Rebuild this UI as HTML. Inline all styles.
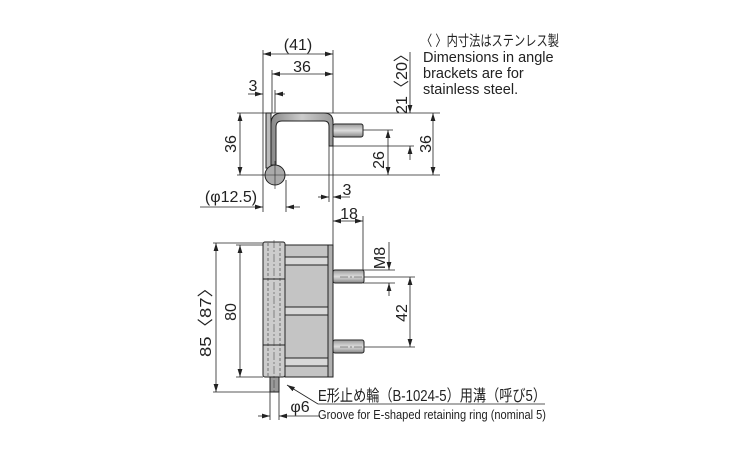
<!DOCTYPE html>
<html><head><meta charset="utf-8"><style>
html,body{margin:0;padding:0;background:#fff;width:750px;height:450px;overflow:hidden}
text{font-family:"Liberation Sans","Noto Sans CJK JP",sans-serif;fill:#222}
</style></head><body>
<svg width="750" height="450" viewBox="0 0 750 450" xmlns="http://www.w3.org/2000/svg">
<defs>
<marker id="a" viewBox="0 0 10 6" refX="10" refY="3" markerWidth="8" markerHeight="5" orient="auto-start-reverse" markerUnits="userSpaceOnUse"><path d="M0,0 L10,3 L0,6z" fill="#222"/></marker>
<linearGradient id="pg" x1="0" x2="1"><stop offset="0" stop-color="#888"/><stop offset=".5" stop-color="#ccc"/><stop offset="1" stop-color="#999"/></linearGradient>
<linearGradient id="pv" x1="0" x2="0" y1="0" y2="1"><stop offset="0" stop-color="#999"/><stop offset=".5" stop-color="#ddd"/><stop offset="1" stop-color="#888"/></linearGradient>
</defs>
<g stroke="#222" stroke-width="0.8" fill="none">
<line x1="263" y1="50" x2="263" y2="212"/>
<line x1="333" y1="50" x2="333" y2="113"/>
<line x1="272" y1="70" x2="272" y2="113"/>
<line x1="275" y1="90" x2="275" y2="113"/>
<line x1="237" y1="113" x2="440" y2="113"/>
<line x1="237" y1="175" x2="440" y2="175"/>
<line x1="363" y1="130" x2="393" y2="130"/>
<line x1="333" y1="146" x2="414" y2="146"/>
<line x1="329" y1="146" x2="329" y2="202"/>
<line x1="333" y1="146" x2="333" y2="202"/>
<line x1="286" y1="180" x2="286" y2="212"/>
<line x1="263" y1="54" x2="333" y2="54" marker-start="url(#a)" marker-end="url(#a)"/>
<line x1="272" y1="74" x2="333" y2="74" marker-start="url(#a)" marker-end="url(#a)"/>
<line x1="248" y1="94" x2="263" y2="94" marker-end="url(#a)"/>
<line x1="285" y1="94" x2="275" y2="94" marker-end="url(#a)"/>
<line x1="240" y1="113" x2="240" y2="175" marker-start="url(#a)" marker-end="url(#a)"/>
<line x1="388" y1="130" x2="388" y2="175" marker-start="url(#a)" marker-end="url(#a)"/>
<line x1="433" y1="113" x2="433" y2="175" marker-start="url(#a)" marker-end="url(#a)"/>
<line x1="410" y1="52" x2="410" y2="113" marker-end="url(#a)"/>
<line x1="410" y1="160" x2="410" y2="146" marker-end="url(#a)"/>
<line x1="200" y1="207" x2="263" y2="207" marker-end="url(#a)"/>
<line x1="300" y1="207" x2="286" y2="207" marker-end="url(#a)"/>
<line x1="318" y1="197" x2="329" y2="197" marker-end="url(#a)"/>
<line x1="350" y1="197" x2="333" y2="197" marker-end="url(#a)"/>
</g>
<g stroke="#222" stroke-width="1">
<path d="M266,113 L271,113 L271,168 L266,168 Z" fill="#bbb"/>
<path d="M271,165 L271,124 Q271,113 282,113 L324,113 Q333,113 333,122 L333,146 L329,146 L329,126 Q329,121 324,121 L282,121 Q276,121 276,127 L276,165 Z" fill="url(#pg)"/>
<rect x="333" y="124" width="30" height="13" rx="2" fill="url(#pv)"/>
<circle cx="275" cy="175" r="10" fill="#aaa"/>
</g>
<line x1="275" y1="161" x2="275" y2="189" stroke="#222" stroke-width=".6"/>
<line x1="261" y1="175" x2="289" y2="175" stroke="#222" stroke-width=".6"/>
<g stroke="#222" stroke-width="0.8" fill="none">
<line x1="333" y1="202" x2="333" y2="245"/>
<line x1="363" y1="216" x2="363" y2="270"/>
<line x1="333" y1="221" x2="363" y2="221" marker-start="url(#a)" marker-end="url(#a)"/>
<line x1="213" y1="243" x2="263" y2="243"/>
<line x1="236" y1="245" x2="285" y2="245"/>
<line x1="236" y1="377" x2="263" y2="377"/>
<line x1="213" y1="392" x2="270" y2="392"/>
<line x1="216" y1="243" x2="216" y2="392" marker-start="url(#a)" marker-end="url(#a)"/>
<line x1="240" y1="245" x2="240" y2="377" marker-start="url(#a)" marker-end="url(#a)"/>
<line x1="363" y1="270" x2="395" y2="270"/>
<line x1="363" y1="283" x2="395" y2="283"/>
<line x1="389" y1="242" x2="389" y2="270" marker-end="url(#a)"/>
<line x1="389" y1="296" x2="389" y2="283" marker-end="url(#a)"/>
<line x1="363" y1="277" x2="415" y2="277"/>
<line x1="363" y1="347" x2="415" y2="347"/>
<line x1="410" y1="277" x2="410" y2="347" marker-start="url(#a)" marker-end="url(#a)"/>
<line x1="270" y1="392" x2="270" y2="420"/>
<line x1="279" y1="392" x2="279" y2="420"/>
<line x1="258" y1="416" x2="270" y2="416" marker-end="url(#a)"/>
<line x1="320" y1="416" x2="279" y2="416" marker-end="url(#a)"/>
<line x1="318" y1="404" x2="287" y2="385" marker-end="url(#a)"/>
<line x1="318" y1="404" x2="545" y2="404"/>
</g>
<g stroke="#222" stroke-width="1">
<rect x="285" y="245" width="48" height="132" fill="#c4c4c4"/>
<rect x="328" y="245" width="5" height="132" fill="#b0b0b0"/>
<rect x="285" y="257" width="43" height="8" fill="#d8d8d8"/>
<rect x="285" y="307" width="43" height="8" fill="#d8d8d8"/>
<rect x="285" y="358" width="43" height="8" fill="#d8d8d8"/>
<rect x="263" y="242" width="22" height="135" rx="2" fill="#ccc"/>
<line x1="263" y1="279" x2="285" y2="279"/>
<line x1="263" y1="345" x2="285" y2="345"/>
<rect x="270" y="377" width="9" height="15" fill="#999"/>
<rect x="333" y="270" width="31" height="13" rx="2" fill="url(#pv)"/>
<rect x="333" y="340" width="31" height="13" rx="2" fill="url(#pv)"/>
</g>
<g stroke="#333" stroke-width=".6" stroke-dasharray="3,2">
<line x1="268" y1="243" x2="268" y2="377"/><line x1="280" y1="243" x2="280" y2="377"/>
</g>
<g stroke="#333" stroke-width=".5" stroke-dasharray="8,2,2,2">
<line x1="274" y1="240" x2="274" y2="392"/>
<line x1="340" y1="277" x2="362" y2="277"/><line x1="340" y1="347" x2="362" y2="347"/>
</g>
<g font-size="16">
<text x="298" y="50" text-anchor="middle">(41)</text>
<text x="302" y="72" text-anchor="middle">36</text>
<text x="253" y="91" text-anchor="middle">3</text>
<text x="347" y="195" text-anchor="middle">3</text>
<text x="231" y="202" text-anchor="middle">(φ12.5)</text>
<text x="349" y="219" text-anchor="middle">18</text>
<text x="300" y="412" text-anchor="middle">φ6</text>
<text transform="translate(236,144) rotate(-90)" text-anchor="middle">36</text>
<text transform="translate(384,160) rotate(-90)" text-anchor="middle">26</text>
<text transform="translate(431,144) rotate(-90)" text-anchor="middle">36</text>
<text transform="translate(407,80) rotate(-90)" text-anchor="middle" textLength="68" lengthAdjust="spacingAndGlyphs">21〈20〉</text>
<text transform="translate(211,318) rotate(-90)" text-anchor="middle" textLength="78" lengthAdjust="spacingAndGlyphs">85〈87〉</text>
<text transform="translate(236,312) rotate(-90)" text-anchor="middle">80</text>
<text transform="translate(385,258) rotate(-90)" text-anchor="middle">M8</text>
<text transform="translate(407,313) rotate(-90)" text-anchor="middle">42</text>
<text x="318" y="401" textLength="228" lengthAdjust="spacingAndGlyphs">E形止め輪（B-1024-5）用溝（呼び5）</text>
</g>
<text x="318" y="419" font-size="13" textLength="228" lengthAdjust="spacingAndGlyphs">Groove for E-shaped retaining ring (nominal 5)</text>
<g font-size="14.5">
<text x="421" y="46" textLength="138" lengthAdjust="spacingAndGlyphs">〈 〉内寸法はステンレス製</text>
<text x="423" y="62">Dimensions in angle</text>
<text x="423" y="78">brackets are for</text>
<text x="423" y="94">stainless steel.</text>
</g>
</svg>
</body></html>
